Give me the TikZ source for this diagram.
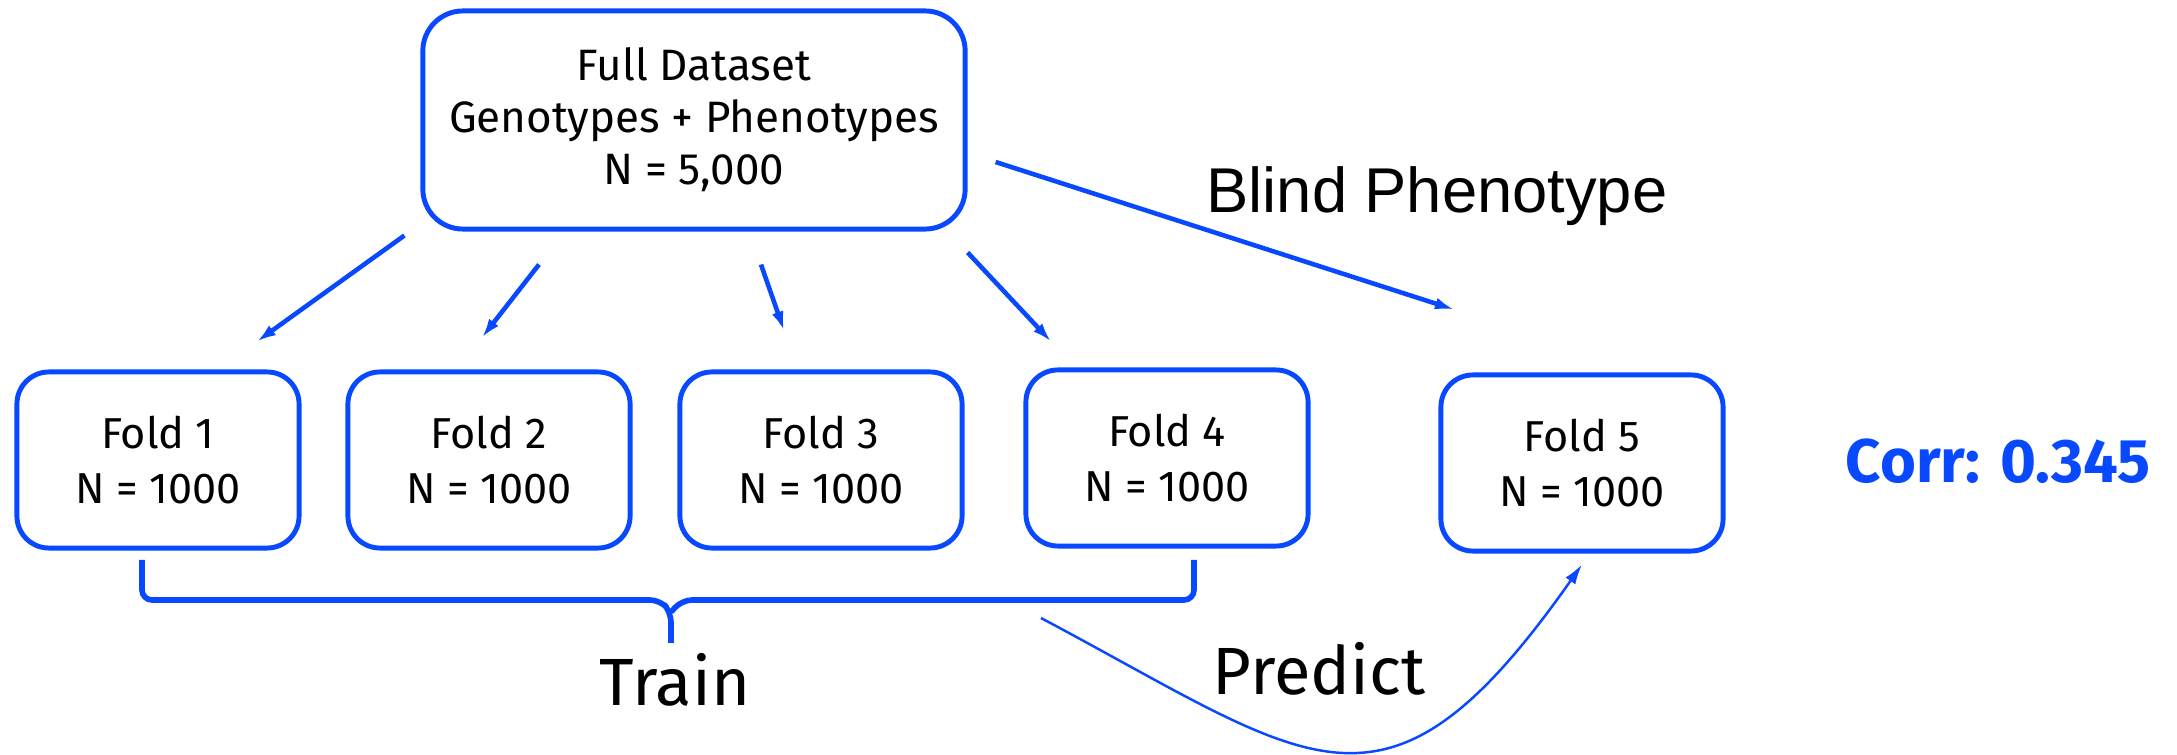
\documentclass[tikz,border=0pt]{standalone}
\usepackage{fontspec}
\setmainfont{Fira Sans}
\newfontfamily\labelfont{Liberation Sans}
\usetikzlibrary{arrows.meta, positioning, calc}
\definecolor{cvblue}{RGB}{8,72,255}
\tikzset{
    datasetbox/.style = {rectangle, draw=cvblue, line width=1.4pt, rounded corners=0.4cm, minimum width=5.42cm, minimum height=2.18cm, align=center, font=\fontsize{12.5}{14.8}\selectfont},
    foldbox/.style = {rectangle, draw=cvblue, line width=1.4pt, rounded corners=0.32cm, minimum width=2.82cm, minimum height=1.76cm, align=center, font=\fontsize{12.3}{15.6}\selectfont},
    split/.style = {draw=cvblue, line width=1.3pt, -{Latex[length=0.19cm, width=0.12cm]}}
}

\begin{document}
\begin{tikzpicture}[
        x=0.01cm, y=-0.01cm,
        % STYLES
        blindflow/.style = {draw=cvblue, line width=1.3pt, -{Latex[length=0.19cm, width=0.12cm]}},
        predictflow/.style = {draw=cvblue, line width=0.7pt, -{Latex[length=0.2cm, width=0.12cm]}},
        bracket/.style = {draw=cvblue, line width=1.6pt, rounded corners=0.1cm},
        biglabel/.style = {font=\fontsize{19}{21}\selectfont},
        corrlabel/.style = {font=\fontsize{17.5}{19}\selectfont\bfseries, text=cvblue}
    ]
        \useasboundingbox (0,0) rectangle (2177,755);

        % --- NODES ---
        % Full dataset
        \node [datasetbox] (full) at (694,120) {Full Dataset\\Genotypes + Phenotypes\\N = 5,000};

        % Folds
        \node [foldbox] (fold1) at (158,460) {Fold 1\\N = 1000};
        \node [foldbox] (fold2) at (489,460) {Fold 2\\N = 1000};
        \node [foldbox] (fold3) at (821,460) {Fold 3\\N = 1000};
        \node [foldbox] (fold4) at (1167,458) {Fold 4\\N = 1000};
        \node [foldbox] (fold5) at (1582,463) {Fold 5\\N = 1000};

        % Labels
        \node [font=\labelfont\fontsize{18}{20}\selectfont] (blind) at (1437,196) {Blind Phenotype};
        \node [biglabel] (train) at (675,680) {Train};
        \node [biglabel] (predict) at (1319,669) {Predict};
        \node [corrlabel] (corr) at (1998,461) {Corr: 0.345};

        % --- PATHS ---
        % Splitting into folds
        \path [split] ($(full.south west)+(-16,4)$) -- ($(fold1.north)+(99,-28)$);
        \path [split] ($(full.south)+(-155,33)$) -- ($(fold2.north)+(-7,-32)$);
        \path [split] ($(full.south)+(67,33)$) -- ($(fold3.north)+(-37,-39)$);
        \path [split] ($(full.south east)+(0,21)$) -- ($(fold4.north)+(-116,-26)$);
        \path [blindflow] ($(full.east)+(28,42)$) -- ($(fold5.north)+(-128,-63)$);

        % Training bracket
        \draw [bracket] (142,560) -- (142,600) -- (660,600) -- (671,612) -- (671,643);
        \draw [bracket] (671,612) -- (682,600) -- (1194,600) -- (1194,560);

        % Predict flow
        \coordinate (predictstart) at (1041,618);
        \path [predictflow] (predictstart) .. controls (1314,763) and (1385,845) .. ($(fold5.south)+(0,11)$);

    \end{tikzpicture}
\end{document}
